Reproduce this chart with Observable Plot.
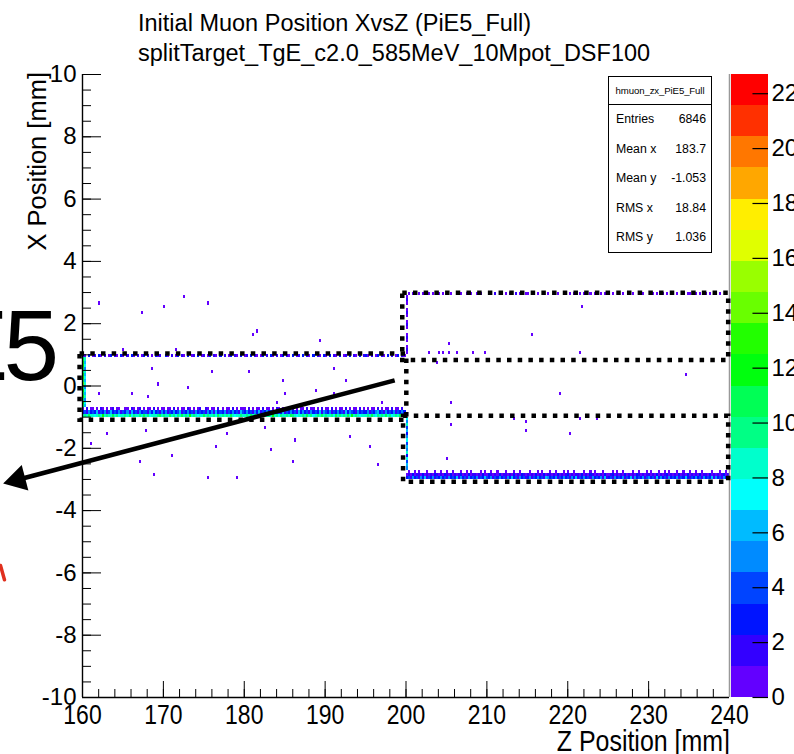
<!DOCTYPE html>
<html><head><meta charset="utf-8">
<script src="https://cdn.jsdelivr.net/npm/d3@7"></script>
<script src="https://cdn.jsdelivr.net/npm/@observablehq/plot@0.6"></script>
<style>
html,body{margin:0;padding:0;background:#fff;}
#wrap{position:relative;width:794px;height:754px;overflow:hidden;font-family:"Liberation Sans",Arial,Helvetica,sans-serif;color:#000;}
#wrap svg{position:absolute;top:0;}
.abs{position:absolute;white-space:nowrap;line-height:1;}
#stats{position:absolute;left:608px;top:76px;width:104px;height:177px;box-sizing:border-box;border:1px solid #000;background:#fff;}
#stats .hd{height:27px;line-height:27px;border-bottom:1px solid #000;font-size:9.6px;text-align:center;letter-spacing:-0.1px;}
#stats .row{display:flex;justify-content:space-between;height:29.5px;line-height:29.5px;padding:0 5px 0 7px;font-size:12.3px;}
</style></head>
<body><div id="wrap"></div>
<script>
// ---------- texts ----------
const titleLines = ["Initial Muon Position XvsZ (PiE5_Full)", "splitTarget_TgE_c2.0_585MeV_10Mpot_DSF100"];
const xTitle = "Z Position [mm]";
const yTitle = "X Position [mm]";
const sideText = "PiE5";
const statsName = "hmuon_zx_PiE5_Full";
const statLabels = ["Entries", "Mean x", "Mean y", "RMS x", "RMS y"];
const statValues = ["6846", "183.7", "-1.053", "18.84", "1.036"];

// ---------- ticks ----------
const zTicks = [160, 170, 180, 190, 200, 210, 220, 230, 240];
const xTicks = [-10, -8, -6, -4, -2, 0, 2, 4, 6, 8, 10];
const colorTicks = [0, 2, 4, 6, 8, 10, 12, 14, 16, 18, 20, 22];
const zMaxColor = 22.7;
const paletteHues = [263.2, 252, 235.2, 224, 207.2, 196, 179.2, 168, 151.2, 140, 123.2, 112, 95.2, 84, 67.2, 56, 39.2, 28, 11.2, 0];

// ---------- histogram bins (counts per 0.25 mm in Z, 0.1 mm in X; base-36 digits) ----------
const dz = 0.25, dxb = 0.1;
// left target, bottom surface rows (Z 160..200)
const leftBottomRow0 = ["9a8b9878a9c8a99b8a79","8a9b7a98a8b9a7898ab9","a89b8a7a9b8a9c8a9789","b8a98a7b9a8a9b8789a8","9a8b9a78a9b8a8c9a7a9","8a9ba8798a9b8a79a8b9","a98a7b9a8a9b8c9a8789","9a8b97a8a9b8a79a8b98"].join(""); // X -1.0..-0.9
const leftBottomRow1 = ["34253436243524634352","43526342534425363425","35243534624353425343","42535263435243534264","35342536243534253436","24353426353425343625","43524353426354325343","35243563425343524353"].join(""); // X -0.9..-0.8
const leftBottomRow2 = ["10201101021010120110","01102101201011020101","10110201011021010120","02101102010110201011","10201011020110102101","01102010110201101020","11020101102010110201","01011020101102011020"].join(""); // X -0.8..-0.7
// left target, top surface row (X 0.9..1.0)
const leftTopRow0 = ["21030120310201302103","10203102013020103120","03102013021030120301","20130210302013021030","12030210130203102013","02103012030210302103","10302103012030210302","31020130210302013021"].join("");
// right target, bottom surface rows (Z 200..240)
const rightBottomRow0 = ["34253425362435243534","25343625342534352436","43524353425363425342","35243534265343524353","42536243534253435262","34253435243625343524","53426353425343524363","24353425343625342534"].join(""); // X -3.0..-2.9
const rightBottomRow1 = ["12131221312121321213","21312123121312212131","13212131221213121321","21213121312212131212","31212213121321212131","12312121312121321212","21213121231212131213","12121312213121212312"].join(""); // X -2.9..-2.8
const rightBottomRow2 = ["01001010001000100100","10010001001010000101","00100100010001001000","01000101000100100010","10010000100101000100","00101001000010010001","01000100101000100100","10010010000100010010"].join(""); // X -2.8..-2.7
// right target, top surface row (X 2.9..3.0)
const rightTopRow0 = ["01010010100101001010","10100101001010010100","01002010010100201001","10010100101001010010","01010010100101001010","10100101001010010100","00101001010010100101","10010100101001010010"].join("");
// upstream faces (columns along X)
const leftFaceCol0 = "bcadbcaebdcabdcb";   // Z 160.00, X -0.7..0.9
const leftFaceCol1 = "6758675867685768";   // Z 160.25, X -0.7..0.9
const rightFaceLow = "56473856475364857";  // Z 200.00, X -2.7..-1.0
const rightFaceHigh = "1210121012101210121"; // Z 200.00, X 1.0..2.9
// isolated single-count bins [Z, X]
const isolated = [
  [162.0,2.65],[172.7,2.84],[170.0,2.55],[175.7,2.65],[167.4,2.33],[181.6,1.72],[181.0,1.62],[189.4,1.40],[165.0,1.12],[171.5,1.14],
  [168.7,0.59],[176.2,0.40],[180.5,0.40],[191.2,0.59],[184.8,0.11],[192.7,0.11],[169.4,0.02],[173.2,-0.08],[188.8,-0.18],[162.0,-0.30],
  [166.0,-0.30],[168.0,-0.40],[185.2,-0.30],[191.2,-0.30],[197.2,-0.56],[184.2,-0.59],
  [163.0,-1.56],[167.9,-1.49],[177.8,-1.56],[182.7,-1.36],[186.4,-1.78],[193.0,-1.65],[161.2,-1.85],[176.7,-1.97],[183.3,-2.10],[195.5,-1.97],
  [171.1,-2.30],[167.0,-2.49],[186.0,-2.49],[196.7,-2.58],[168.9,-2.84],[175.5,-3.00],[179.1,-3.00],
  [221.8,2.52],[215.6,1.65],[205.4,1.33],[221.7,1.04],[203.8,0.72],[234.7,0.30],[219.1,-0.27],[205.7,-0.56],[213.3,-1.04],[214.9,-1.20],
  [221.7,-1.04],[223.6,-1.04],[205.7,-1.30],[214.8,-1.49],[220.4,-1.59],[205.0,-2.39],
  [202.8,1.02],[204.0,1.02],[204.7,1.02],[205.4,1.02],[206.3,1.02],[208.3,1.02],[209.9,1.02]
];

// ---------- annotations ----------
const boxes = [
  {z1: 159.7, z2: 200.1, x1: -1.1, x2: 1.03},
  {z1: 199.6, z2: 239.9, x1: 0.82, x2: 2.98},
  {z1: 199.7, z2: 239.9, x1: -3.09, x2: -0.97}
];
const arrowTail = [198.6, 0.18];
const arrowTip = [150.2, -3.13];
const redFragment = [{z: 149.86, x: -5.76}, {z: 150.35, x: -6.22}];

// ---------- build bins ----------
const bins = [];
function addRow(z0, x0, s) {
  for (let i = 0; i < s.length; i++) {
    const c = parseInt(s[i], 36);
    if (c > 0) bins.push({z1: z0 + i * dz, z2: z0 + (i + 1) * dz, x1: x0, x2: x0 + dxb, c});
  }
}
function addCol(z0, x0, s) {
  for (let i = 0; i < s.length; i++) {
    const c = parseInt(s[i], 36);
    if (c > 0) bins.push({z1: z0, z2: z0 + dz, x1: x0 + i * dxb, x2: x0 + (i + 1) * dxb, c});
  }
}
addRow(160, -1.0, leftBottomRow0);
addRow(160, -0.9, leftBottomRow1);
addRow(160, -0.8, leftBottomRow2);
addRow(160, 0.9, leftTopRow0);
addRow(200, -3.0, rightBottomRow0);
addRow(200, -2.9, rightBottomRow1);
addRow(200, -2.8, rightBottomRow2);
addRow(200, 2.9, rightTopRow0);
addCol(160, -0.7, leftFaceCol0);
addCol(160.25, -0.7, leftFaceCol1);
addCol(200, -2.7, rightFaceLow);
addCol(200, 1.0, rightFaceHigh);
for (const [z, x] of isolated) {
  const z1 = Math.floor(z / dz + 1e-6) * dz, x1 = Math.floor(x / dxb + 1e-6) * dxb;
  bins.push({z1, z2: z1 + dz, x1, x2: x1 + dxb, c: 1});
}

// ---------- layout ----------
const W = 794, H = 754, mL = 82, mR = 65, mT = 74, mB = 57;
const pxZ = (W - mL - mR) / 80, pxX = (H - mT - mB) / 20;
const thresholds = d3.range(1, 20).map(k => k * zMaxColor / 20);
const palette = paletteHues.map(h => d3.hsl(h, 1, 0.5).formatHex());
const colorScale = {type: "threshold", domain: thresholds, range: palette};

// arrow head placement
const sx = (arrowTip[0] - arrowTail[0]) * pxZ, sy = -(arrowTip[1] - arrowTail[1]) * pxX;
const L = Math.hypot(sx, sy), ux = sx / L, uy = sy / L, back = 15;
const arrow = {
  z1: arrowTail[0], x1: arrowTail[1],
  zh: arrowTip[0] - back * ux / pxZ, xh: arrowTip[1] + back * uy / pxX,
  rot: Math.atan2(ux, -uy) * 180 / Math.PI
};

const font = "Liberation Sans, Arial, Helvetica, sans-serif";
const zMinor = d3.range(160, 240.01, 2);
const xMinor = d3.range(-10, 10.01, 0.5);

const main = Plot.plot({
  width: W, height: H, marginLeft: mL, marginRight: mR, marginTop: mT, marginBottom: mB,
  x: {domain: [160, 240]}, y: {domain: [-10, 10]}, color: colorScale,
  style: {fontFamily: font, background: "transparent", overflow: "visible", color: "#000"},
  marks: [
    Plot.rect(bins, {x1: "z1", x2: "z2", y1: "x1", y2: "x2", fill: "c", shapeRendering: "crispEdges"}),
    Plot.ruleX(zMinor, {y1: -10, y2: -10 + 8 / pxX, stroke: "#000"}),
    Plot.ruleX(zTicks, {y1: -10, y2: -10 + 16 / pxX, stroke: "#000"}),
    Plot.ruleY(xMinor, {x1: 160, x2: 160 + 9 / pxZ, stroke: "#000"}),
    Plot.ruleY(xTicks, {x1: 160, x2: 160 + 19 / pxZ, stroke: "#000"}),
    Plot.ruleX([160], {y1: -10, y2: 10, stroke: "#000", strokeWidth: 1.4}),
    Plot.ruleY([-10], {x1: 160, x2: 240, stroke: "#000", strokeWidth: 1.4}),
    Plot.ruleX([240], {y1: -10, y2: 10, stroke: "#999", strokeWidth: 1.5}),
    Plot.axisX(zTicks, {tickSize: 0, tickPadding: 7, fontSize: 28, tickFormat: d => String(d), label: null}),
    Plot.axisY(xTicks, {tickSize: 0, tickPadding: 6, fontSize: 24, tickFormat: d => String(d), label: null}),
    Plot.rect(boxes, {x1: "z1", x2: "z2", y1: "x1", y2: "x2", fill: "none", stroke: "#000", strokeWidth: 4.5, strokeDasharray: "4.5,6.2"}),
    Plot.link([arrow], {x1: "z1", y1: "x1", x2: "zh", y2: "xh", stroke: "#000", strokeWidth: 4.6}),
    Plot.dot([arrow], {x: "zh", y: "xh", symbol: "triangle", r: 9.7, fill: "#000", stroke: "none", rotate: "rot"}),
    Plot.line(redFragment, {x: "z", y: "x", stroke: "#e0301e", strokeWidth: 3.5})
  ]
});
main.style.left = "0px";
main.querySelectorAll('[aria-label="x-axis tick label"] text').forEach(t => {
  const tr = t.getAttribute("transform") || "";
  t.setAttribute("transform", tr + " scale(0.82,1)");
});

const levelsLo = d3.range(20).map(k => k * zMaxColor / 20);
const cbar = Plot.plot({
  width: 63, height: H, marginTop: mT, marginBottom: mB, marginLeft: 0, marginRight: 26,
  x: {domain: [0, 1], axis: null}, y: {domain: [0, zMaxColor]}, color: colorScale,
  style: {fontFamily: font, background: "transparent", overflow: "visible", color: "#000"},
  marks: [
    Plot.rect(levelsLo, {x1: 0, x2: 1, y1: d => d, y2: d => d + zMaxColor / 20, fill: d => d + zMaxColor / 40, shapeRendering: "crispEdges"}),
    Plot.ruleY(colorTicks, {x1: 0.58, x2: 1, stroke: "#000", strokeWidth: 1.2}),
    Plot.axisY(colorTicks, {anchor: "right", tickSize: 0, tickPadding: 3, fontSize: 24, tickFormat: d => String(d), label: null})
  ]
});
cbar.style.left = "731px";

const wrap = document.getElementById("wrap");
wrap.appendChild(main);
wrap.appendChild(cbar);

function addDiv(text, css) {
  const d = document.createElement("div");
  d.className = "abs";
  d.textContent = text;
  Object.assign(d.style, css);
  wrap.appendChild(d);
  return d;
}
addDiv(titleLines[0], {left: "138px", top: "12px", fontSize: "23.5px"});
addDiv(titleLines[1], {left: "138px", top: "42px", fontSize: "23.5px"});
addDiv(yTitle, {left: "25px", top: "372px", width: "300px", textAlign: "right", fontSize: "25.5px", transformOrigin: "0 0", transform: "rotate(-90deg)"});
addDiv(xTitle, {left: "430px", top: "727px", width: "300px", textAlign: "right", fontSize: "29px", transformOrigin: "100% 50%", transform: "scaleX(0.86)"});
addDiv(sideText, {right: "740px", top: "295px", fontSize: "100px", letterSpacing: "-5px"});

const stats = document.createElement("div");
stats.id = "stats";
const hd = document.createElement("div");
hd.className = "hd"; hd.textContent = statsName;
stats.appendChild(hd);
statLabels.forEach((lab, i) => {
  const r = document.createElement("div");
  r.className = "row";
  const a = document.createElement("span"); a.textContent = lab;
  const b = document.createElement("span"); b.textContent = statValues[i];
  r.appendChild(a); r.appendChild(b);
  stats.appendChild(r);
});
wrap.appendChild(stats);
</script></body></html>
